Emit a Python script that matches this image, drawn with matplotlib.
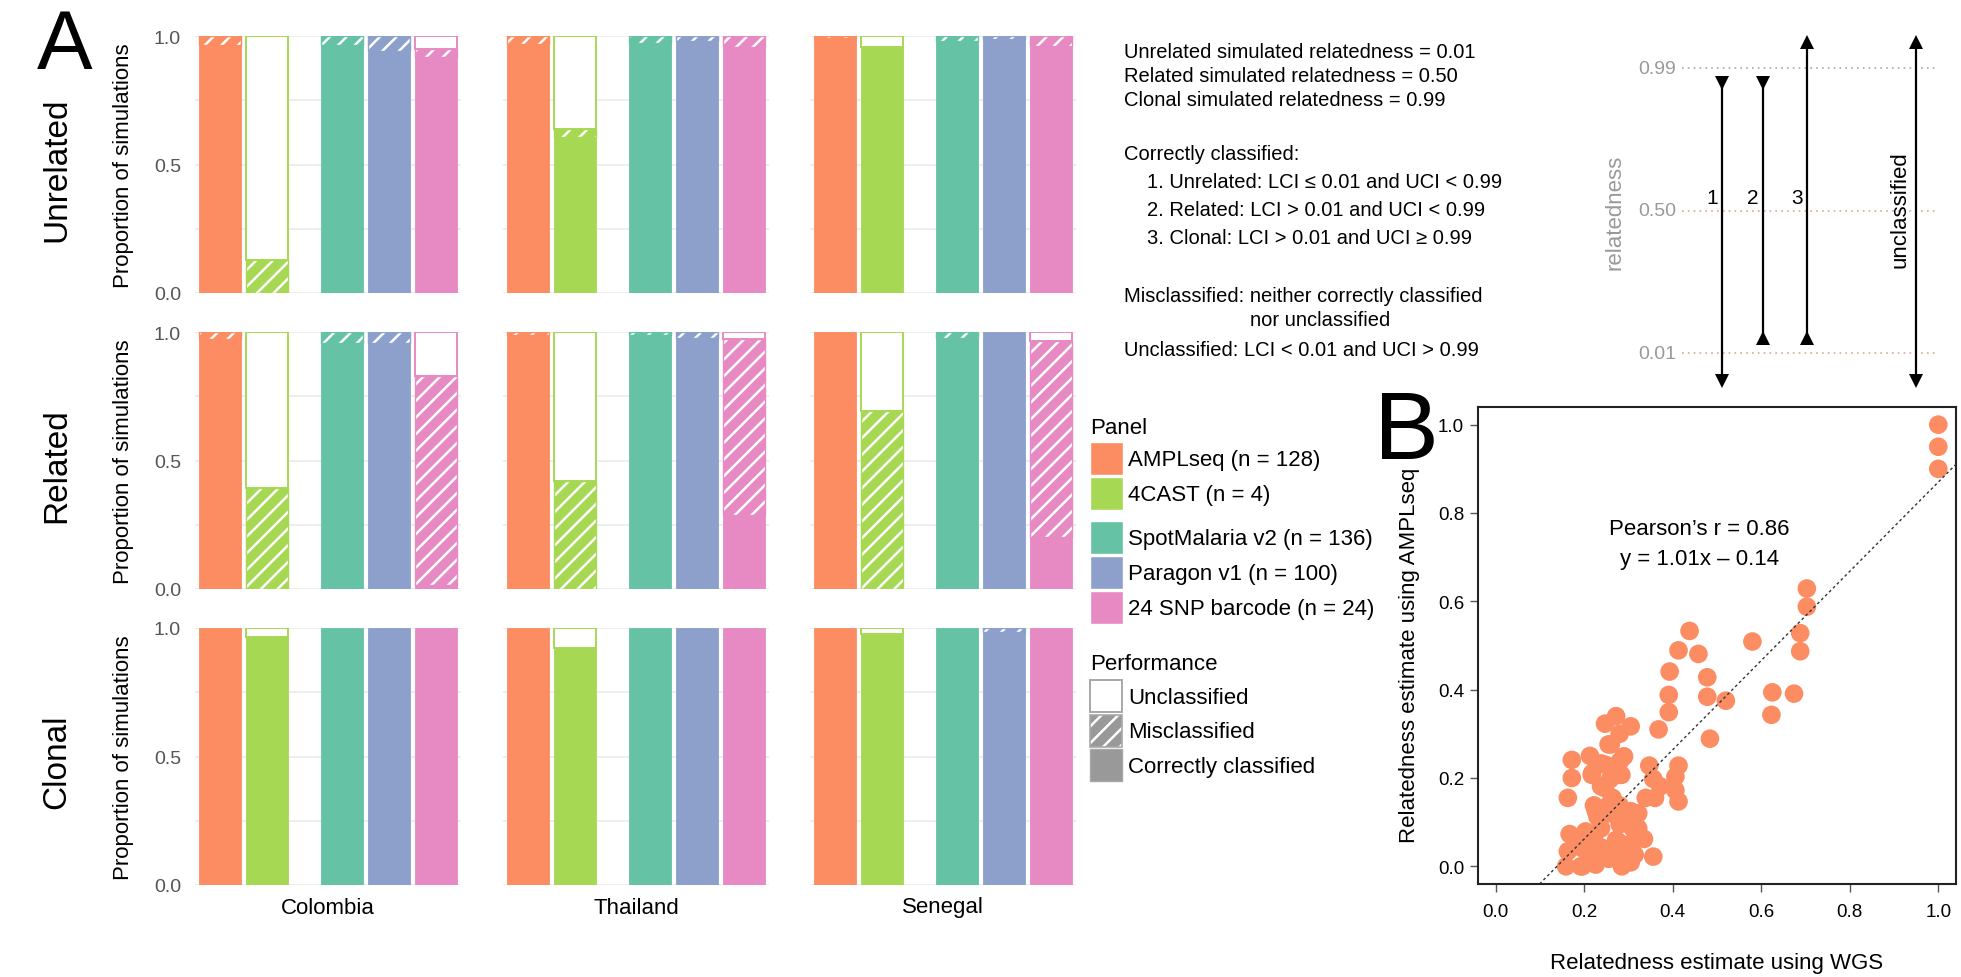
import matplotlib
matplotlib.use("Agg")
import matplotlib.pyplot as plt
from matplotlib.patches import Rectangle
import numpy as np

plt.rcParams["font.family"] = ["Liberation Sans", "DejaVu Sans"]
plt.rcParams["hatch.linewidth"] = 1.8

# ---------------- data ----------------
countries = ["Colombia", "Thailand", "Senegal"]
scenarios = ["Unrelated", "Related", "Clonal"]
panel_names = ["AMPLseq (n = 128)", "4CAST (n = 4)", "SpotMalaria v2 (n = 136)",
               "Paragon v1 (n = 100)", "24 SNP barcode (n = 24)"]
panel_colors = ["#FC8D62", "#A6D854", "#66C2A5", "#8DA0CB", "#E78AC3"]
performance_levels = ["Unclassified", "Misclassified", "Correctly classified"]

# proportions; rows = countries (Colombia, Thailand, Senegal), columns = panels
unrelated_misclassified = [[0.035, 0.128, 0.035, 0.058, 0.032],
                           [0.030, 0.030, 0.026, 0.020, 0.043],
                           [0.008, 0.000, 0.020, 0.013, 0.040]]
unrelated_unclassified = [[0.000, 0.872, 0.000, 0.000, 0.050],
                          [0.000, 0.363, 0.000, 0.000, 0.000],
                          [0.000, 0.043, 0.000, 0.000, 0.000]]
related_misclassified = [[0.026, 0.394, 0.042, 0.042, 0.813],
                         [0.010, 0.421, 0.013, 0.022, 0.687],
                         [0.000, 0.693, 0.022, 0.000, 0.760]]
related_unclassified = [[0.000, 0.606, 0.000, 0.000, 0.171],
                        [0.000, 0.579, 0.000, 0.000, 0.026],
                        [0.000, 0.307, 0.000, 0.000, 0.036]]
clonal_misclassified = [[0.000, 0.000, 0.000, 0.000, 0.000],
                        [0.000, 0.000, 0.000, 0.000, 0.000],
                        [0.000, 0.000, 0.000, 0.016, 0.000]]
clonal_unclassified = [[0.000, 0.035, 0.000, 0.000, 0.000],
                       [0.000, 0.076, 0.000, 0.000, 0.000],
                       [0.000, 0.022, 0.000, 0.000, 0.000]]

bar_y_ticks = [0.0, 0.5, 1.0]
bar_y_ticklabels = ["0.0", "0.5", "1.0"]

# panel B: relatedness estimates (WGS vs AMPLseq)
wgs_estimate = [1.00, 1.00, 1.00, 0.703, 0.703, 0.688, 0.688, 0.580, 0.438, 0.413,
                0.458, 0.393, 0.478, 0.391, 0.478, 0.520, 0.391, 0.625, 0.623, 0.674,
                0.484, 0.368, 0.272, 0.247, 0.305, 0.280, 0.255, 0.288, 0.172, 0.213,
                0.238, 0.172, 0.218, 0.272, 0.163, 0.247, 0.222, 0.347, 0.356, 0.360,
                0.339, 0.372, 0.413, 0.406, 0.406, 0.413, 0.356, 0.335, 0.305, 0.280,
                0.167, 0.200, 0.163, 0.159, 0.192, 0.226, 0.255, 0.285, 0.305, 0.314,
                0.238, 0.272, 0.289, 0.205, 0.238, 0.255, 0.230, 0.297, 0.280, 0.264,
                0.238, 0.259, 0.284, 0.280, 0.322, 0.322, 0.192, 0.222, 0.226, 0.256,
                0.294, 0.203, 0.279, 0.309, 0.264, 0.226, 0.309, 0.283, 0.196, 0.217,
                0.260, 0.290, 0.248]
amplseq_estimate = [1.00, 0.95, 0.90, 0.629, 0.588, 0.528, 0.487, 0.509, 0.533, 0.489,
                    0.481, 0.441, 0.428, 0.388, 0.384, 0.375, 0.349, 0.394, 0.343, 0.391,
                    0.289, 0.310, 0.340, 0.323, 0.317, 0.300, 0.276, 0.248, 0.241, 0.250,
                    0.233, 0.200, 0.211, 0.207, 0.155, 0.177, 0.138, 0.228, 0.198, 0.155,
                    0.155, 0.181, 0.228, 0.203, 0.172, 0.147, 0.022, 0.062, 0.125, 0.095,
                    0.073, 0.073, 0.034, 0.000, 0.000, 0.004, 0.017, 0.000, 0.009, 0.026,
                    0.043, 0.060, 0.043, 0.034, 0.086, 0.120, 0.112, 0.112, 0.138, 0.155,
                    0.181, 0.198, 0.207, 0.237, 0.120, 0.086, 0.043, 0.060, 0.125, 0.140,
                    0.113, 0.079, 0.054, 0.054, 0.032, 0.038, 0.087, 0.008, 0.000, 0.207,
                    0.276, 0.249, 0.230]
fit_slope = 1.01
fit_intercept = -0.14
pearson_r = 0.86
scatter_ticks = [0.0, 0.2, 0.4, 0.6, 0.8, 1.0]

# schematic of the classification rules
diag_levels = [0.99, 0.50, 0.01]
diag_level_labels = ["0.99", "0.50", "0.01"]
interval_labels = ["1", "2", "3", "unclassified"]
interval_lci = [-0.085, 0.063, 0.063, -0.085]
interval_uci = [0.940, 0.940, 1.082, 1.082]
interval_lci_marker = ["v", "^", "^", "v"]
interval_uci_marker = ["v", "v", "^", "^"]

info_lines = [
    "Unrelated simulated relatedness = 0.01",
    "Related simulated relatedness = 0.50",
    "Clonal simulated relatedness = 0.99",
    "Correctly classified:",
    "1. Unrelated: LCI \u2264 0.01 and UCI < 0.99",
    "2. Related: LCI > 0.01 and UCI < 0.99",
    "3. Clonal: LCI > 0.01 and UCI \u2265 0.99",
    "Misclassified: neither correctly classified",
    "nor unclassified",
    "Unclassified: LCI < 0.01 and UCI > 0.99",
]

# ---------------- layout ----------------
W, H, DPI = 1961, 978, 100
fig = plt.figure(figsize=(W / DPI, H / DPI), dpi=DPI)


def px_rect(x0, y0, x1, y1):
    return [x0 / W, 1 - y1 / H, (x1 - x0) / W, (y1 - y0) / H]


ov = fig.add_axes([0, 0, 1, 1])
ov.set_xlim(0, W)
ov.set_ylim(H, 0)
ov.axis("off")

col_x0 = [195, 503, 810]
panel_w = 266
row_y0 = [37, 333, 629]
panel_h = 257
bar_pos = np.array([0, 1, 2.6, 3.6, 4.6])
bar_w = 0.9

mis_by_scen = [unrelated_misclassified, related_misclassified, clonal_misclassified]
unc_by_scen = [unrelated_unclassified, related_unclassified, clonal_unclassified]

grid_col = "#EBEBEB"
for r, scen in enumerate(scenarios):
    for c, country in enumerate(countries):
        ax = fig.add_axes(px_rect(col_x0[c], row_y0[r], col_x0[c] + panel_w, row_y0[r] + panel_h))
        mis = np.array(mis_by_scen[r][c])
        unc = np.array(unc_by_scen[r][c])
        cor = 1 - mis - unc
        for i in range(len(panel_names)):
            colr = panel_colors[i]
            x = bar_pos[i]
            if cor[i] > 0:
                ax.bar(x, cor[i], bar_w, color=colr, edgecolor=colr, lw=0.6, zorder=2)
            if mis[i] > 0:
                ax.bar(x, mis[i], bar_w, bottom=cor[i], color=colr, edgecolor="white",
                       hatch="//", lw=0, zorder=2)
                ax.bar(x, mis[i], bar_w, bottom=cor[i], fill=False, edgecolor=colr,
                       lw=1.0, zorder=3)
            if unc[i] > 0:
                ax.bar(x, unc[i], bar_w, bottom=cor[i] + mis[i], color="white",
                       edgecolor=colr, lw=1.4, zorder=3)
        ax.set_xlim(-0.53, 5.13)
        ax.set_ylim(0, 1)
        ax.set_yticks(bar_y_ticks)
        ax.set_yticks([0.25, 0.75], minor=True)
        ax.grid(axis="y", which="both", color=grid_col, lw=1.2, zorder=0)
        ax.set_axisbelow(True)
        ax.set_xticks([])
        for s in ax.spines.values():
            s.set_visible(False)
        ax.tick_params(axis="y", which="both", length=0)
        if c == 0:
            ax.set_yticklabels(bar_y_ticklabels, fontsize=14, color="#555555")
            ax.tick_params(axis="y", pad=10)
        else:
            ax.set_yticklabels([])
        if r == 2:
            ov.text(col_x0[c] + panel_w / 2, row_y0[r] + panel_h + 22, country,
                    ha="center", va="center", fontsize=16)
    yc = row_y0[r] + panel_h / 2
    ov.text(57, yc + 4, scen, rotation=90, ha="center", va="center", fontsize=24)
    ov.text(124, yc, "Proportion of simulations", rotation=90, ha="center",
            va="center", fontsize=16)

ov.text(65, 47, "A", ha="center", va="center", fontsize=60)
ov.text(1406, 434, "B", ha="center", va="center", fontsize=70)

# ---------------- legend ----------------
ov.text(1090, 428, "Panel", ha="left", va="center", fontsize=16)
sw = 33
panel_tops = [443, 478, 522, 557, 592]
for i, name in enumerate(panel_names):
    ov.add_patch(Rectangle((1090, panel_tops[i]), sw, sw, facecolor=panel_colors[i],
                           edgecolor="white", lw=1))
    ov.text(1128, panel_tops[i] + sw / 2 + 1, name, ha="left", va="center", fontsize=16)

ov.text(1090, 664, "Performance", ha="left", va="center", fontsize=16)
perf_tops = [681, 716, 750]
perf_grey = "#999999"
ov.add_patch(Rectangle((1090, perf_tops[0]), 32, 32, facecolor="white", edgecolor="#A8A8A8", lw=1.4))
ov.add_patch(Rectangle((1090, perf_tops[1]), 32, 32, facecolor=perf_grey, edgecolor="white",
                       hatch="//", lw=0))
ov.add_patch(Rectangle((1090, perf_tops[1]), 32, 32, fill=False, edgecolor="#A8A8A8", lw=1.2))
ov.add_patch(Rectangle((1090, perf_tops[2]), 32, 32, facecolor=perf_grey, edgecolor="#A8A8A8", lw=1.0))
for i, lab in enumerate(performance_levels):
    ov.text(1128, perf_tops[i] + 17, lab, ha="left", va="center", fontsize=16)

# ---------------- info text ----------------
info_x = [1124, 1124, 1124, 1124, 1147, 1147, 1147, 1124, 1250, 1124]
info_y = [53, 77, 101, 155, 183, 211, 239, 297, 321, 350]
for s, x, y in zip(info_lines, info_x, info_y):
    ov.text(x, y, s, ha="left", va="center", fontsize=14.5)

# ---------------- schematic ----------------
dx = fig.add_axes(px_rect(1600, 20, 1961, 400))
dx.set_xlim(0, 361)
dx.set_ylim(-0.1465, 1.160)
dx.axis("off")
line_cols = ["#A8A8A8", "#D9A596", "#D9A596"]
for lev, lab, lc in zip(diag_levels, diag_level_labels, line_cols):
    dx.plot([82, 337], [lev, lev], color=lc, lw=1.2, ls=(0, (1, 2.5)))
    dx.text(76, lev, lab, ha="right", va="center", fontsize=14, color="#999999")
dx.text(15, 0.5, "relatedness", rotation=90, ha="center", va="center", fontsize=16,
        color="#999999")
interval_x = [122, 163, 207, 316]
for i in range(len(interval_labels)):
    x = interval_x[i]
    dx.plot([x, x], [interval_lci[i], interval_uci[i]], color="black", lw=1.6)
    dx.plot(x, interval_lci[i], marker=interval_lci_marker[i], ms=10, color="black", mew=0)
    dx.plot(x, interval_uci[i], marker=interval_uci_marker[i], ms=10, color="black", mew=0)
for i in range(3):
    dx.text(interval_x[i] - 10, 0.545, interval_labels[i], ha="center", va="center", fontsize=15)
dx.text(interval_x[3] - 16, 0.507, interval_labels[3], rotation=90, ha="center", va="center",
        fontsize=16)

# ---------------- panel B scatter ----------------
sx = fig.add_axes(px_rect(1478, 408, 1956, 885))
sx.scatter(wgs_estimate, amplseq_estimate, s=180, color="#FC8D62", edgecolors="none", zorder=2)
sx.axline((0, fit_intercept), slope=fit_slope, color="#333333", lw=1.0, ls=(0, (2, 2)), zorder=3)
sx.set_xlim(-0.04, 1.04)
sx.set_ylim(-0.04, 1.04)
sx.set_xticks(scatter_ticks)
sx.set_yticks(scatter_ticks)
sx.set_xticklabels([f"{t:.1f}" for t in scatter_ticks])
sx.set_yticklabels([f"{t:.1f}" for t in scatter_ticks])
sx.tick_params(direction="out", length=6, width=1, color="#555555", labelsize=13.5, pad=4)
sx.tick_params(axis="x", pad=8)
for s in sx.spines.values():
    s.set_linewidth(1.5)
    s.set_color("#222222")
sx.text(0.46, 0.765, f"Pearson\u2019s r = {pearson_r:.2f}", ha="center", va="center", fontsize=16)
sx.text(0.46, 0.698, f"y = {fit_slope:.2f}x \u2013 {abs(fit_intercept):.2f}", ha="center",
        va="center", fontsize=16)
ov.text(1717, 963, "Relatedness estimate using WGS", ha="center", va="center", fontsize=16)
ov.text(1410, 655, "Relatedness estimate using AMPLseq", rotation=90, ha="center",
        va="center", fontsize=16)

fig.savefig("out.png", dpi=DPI)
